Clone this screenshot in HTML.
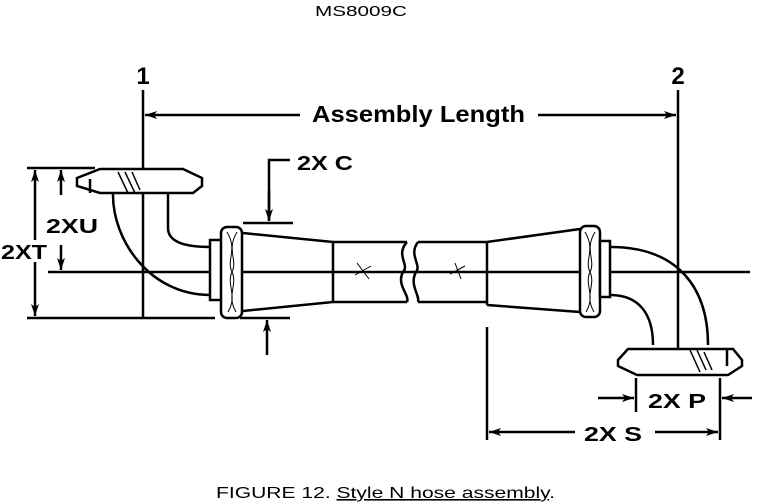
<!DOCTYPE html>
<html><head><style>
html,body{margin:0;padding:0;background:#fff;}
svg{display:block;}
text{font-family:"Liberation Sans",sans-serif;fill:#000;}
</style></head><body>
<svg width="757" height="504" viewBox="0 0 757 504" xmlns="http://www.w3.org/2000/svg">
<defs>
<marker id="a" viewBox="0 0 12 8" refX="12" refY="4" markerWidth="12" markerHeight="8" orient="auto" markerUnits="userSpaceOnUse">
<path d="M0,0 L12,4 L0,8 L3,4 Z" fill="#000"/></marker>
</defs>
<text x="315" y="16" font-size="15" textLength="92" lengthAdjust="spacingAndGlyphs">MS8009C</text>
<g stroke="#000" stroke-width="2.5" fill="none">
<line x1="143" y1="90" x2="143" y2="318"/>
<line x1="678" y1="90" x2="678" y2="370"/>
<line x1="48" y1="272" x2="750" y2="272"/>
<line x1="300" y1="115" x2="145" y2="115" marker-end="url(#a)"/>
<line x1="538" y1="115" x2="676" y2="115" marker-end="url(#a)"/>
<line x1="27" y1="168" x2="95" y2="168"/>
<line x1="27" y1="318" x2="215" y2="318"/>
<line x1="35" y1="240" x2="35" y2="170" marker-end="url(#a)"/>
<line x1="35" y1="262" x2="35" y2="316" marker-end="url(#a)"/>
<line x1="61" y1="195" x2="61" y2="170" marker-end="url(#a)"/>
<line x1="61" y1="245" x2="61" y2="270" marker-end="url(#a)"/>
<line x1="243" y1="223" x2="293" y2="223"/>
<polyline points="290,160 269,160 269,221"/>
<line x1="269" y1="190" x2="269" y2="221" marker-end="url(#a)"/>
<line x1="240" y1="318" x2="290" y2="318"/>
<line x1="267" y1="355" x2="267" y2="320" marker-end="url(#a)"/>
<polygon points="77,178 100,169 183,169 202,178 202,186 193,193 100,193 77,186" fill="#fff"/>
<line x1="90" y1="179" x2="90" y2="193"/>
<path d="M113,193 C112,240 150,295 210,295"/>
<path d="M168,193 L168,228 C168,242 185,247 210,247"/>
<rect x="210" y="240" width="12" height="60" fill="#fff"/>
<rect x="221" y="227" width="21" height="91" rx="6" fill="#fff"/>
<path d="M243,233 L333,242 M243,311 L333,302 M333,242 L333,302"/>
<path d="M333,242 L407,242 M333,302 L407,302"/>
<path d="M407,242 C395,255 410,265 403,272 C396,285 410,295 407,302"/>
<path d="M418,242 C408,255 422,265 416,272 C409,285 420,295 418,302"/>
<path d="M418,242 L487,242 M418,302 L487,302"/>
<path d="M487,242 L487,305 M487,242 L580,229 M487,305 L580,312"/>
<rect x="580" y="226" width="20" height="91" rx="6" fill="#fff"/>
<rect x="600" y="241" width="10" height="56" fill="#fff"/>
<path d="M610,247 C680,247 708,290 708,345"/>
<path d="M610,295 C640,295 653,315 653,345"/>
<polygon points="618,360 628,349 733,349 742,360 742,366 728,375 637,375 618,366" fill="#fff"/>
<line x1="727" y1="350" x2="727" y2="366"/>
<line x1="636" y1="378" x2="636" y2="412"/>
<line x1="720" y1="378" x2="720" y2="440"/>
<line x1="598" y1="398" x2="634" y2="398" marker-end="url(#a)"/>
<line x1="752" y1="398" x2="722" y2="398" marker-end="url(#a)"/>
<line x1="487" y1="327" x2="487" y2="440"/>
<line x1="575" y1="432" x2="489" y2="432" marker-end="url(#a)"/>
<line x1="655" y1="432" x2="718" y2="432" marker-end="url(#a)"/>
</g>
<g stroke="#000" stroke-width="1.5">
<line x1="118" y1="172" x2="128" y2="193"/><line x1="125" y1="172" x2="135" y2="193"/><line x1="132" y1="172" x2="140" y2="190"/>
<line x1="690" y1="350" x2="700" y2="372"/><line x1="697" y1="350" x2="706" y2="370"/><line x1="704" y1="352" x2="712" y2="370"/>
</g>
<g stroke="#000" stroke-width="1" fill="none">
<path d="M227,232 C238,250 226,260 232,272 C238,285 226,295 236,312"/>
<path d="M237,232 C226,250 238,260 232,272 C226,285 238,295 228,312"/>
<path d="M585,232 C596,250 584,260 590,272 C596,285 584,295 594,312"/>
<path d="M595,232 C584,250 596,260 590,272 C584,285 596,295 586,312"/>
<path d="M357,263 L369,279 M355,275 L371,266 M455,263 L461,279 M450,274 L465,266"/>
</g>
<g font-weight="bold">
<text x="143" y="84" font-size="24" text-anchor="middle">1</text>
<text x="678" y="84" font-size="24" text-anchor="middle">2</text>
<text x="312" y="122" font-size="23" textLength="213" lengthAdjust="spacingAndGlyphs">Assembly Length</text>
<text x="297" y="170" font-size="20" textLength="56" lengthAdjust="spacingAndGlyphs">2X C</text>
<text x="46" y="233" font-size="20" textLength="52" lengthAdjust="spacingAndGlyphs">2XU</text>
<text x="1" y="259" font-size="20" textLength="46" lengthAdjust="spacingAndGlyphs">2XT</text>
<text x="648" y="408" font-size="20" textLength="58" lengthAdjust="spacingAndGlyphs">2X P</text>
<text x="584" y="441" font-size="20" textLength="58" lengthAdjust="spacingAndGlyphs">2X S</text>
</g>
<text x="216" y="498" font-size="16" textLength="339" lengthAdjust="spacingAndGlyphs">FIGURE 12.  <tspan text-decoration="underline">Style N hose assembly</tspan>.</text>
</svg>
</body></html>
